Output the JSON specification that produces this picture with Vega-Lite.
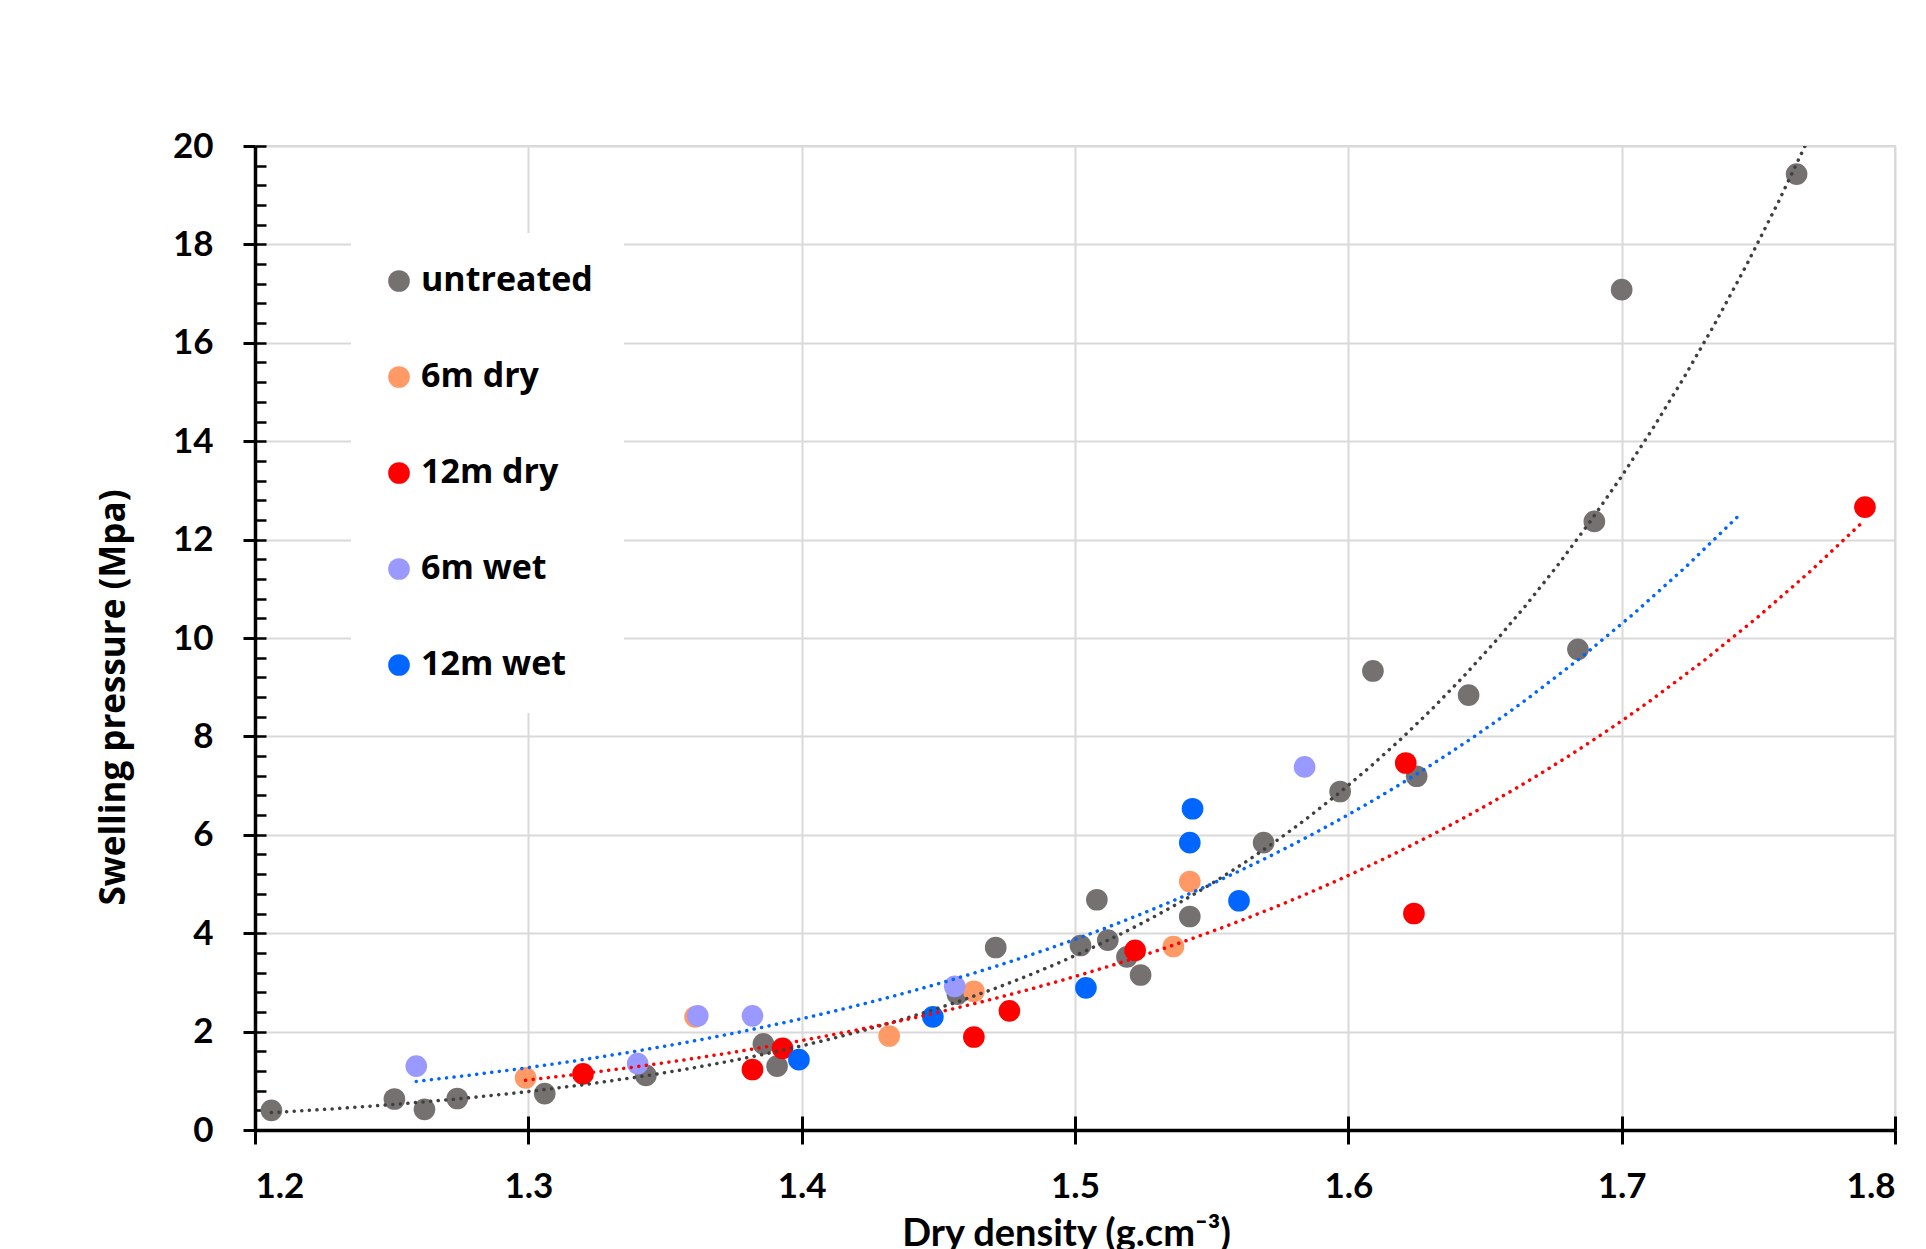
{
  "$schema": "https://vega.github.io/schema/vega-lite/v6.json",
  "width": 1640,
  "height": 984,
  "autosize": {"type": "none"},
  "padding": {"left": 255, "top": 146, "right": 31, "bottom": 119},
  "background": "white",
  "config": {"view": {"stroke": "#d9d9d9", "strokeWidth": 2}},
  "data": {
    "values": [
      {"series": "untreated", "density": 1.206, "pressure": 0.40},
      {"series": "untreated", "density": 1.251, "pressure": 0.63},
      {"series": "untreated", "density": 1.262, "pressure": 0.42},
      {"series": "untreated", "density": 1.274, "pressure": 0.64},
      {"series": "untreated", "density": 1.306, "pressure": 0.74},
      {"series": "untreated", "density": 1.343, "pressure": 1.11},
      {"series": "untreated", "density": 1.386, "pressure": 1.75},
      {"series": "untreated", "density": 1.391, "pressure": 1.30},
      {"series": "untreated", "density": 1.457, "pressure": 2.76},
      {"series": "untreated", "density": 1.471, "pressure": 3.71},
      {"series": "untreated", "density": 1.502, "pressure": 3.75},
      {"series": "untreated", "density": 1.508, "pressure": 4.68},
      {"series": "untreated", "density": 1.512, "pressure": 3.86},
      {"series": "untreated", "density": 1.519, "pressure": 3.52},
      {"series": "untreated", "density": 1.524, "pressure": 3.15},
      {"series": "untreated", "density": 1.542, "pressure": 4.34},
      {"series": "untreated", "density": 1.569, "pressure": 5.84},
      {"series": "untreated", "density": 1.597, "pressure": 6.88},
      {"series": "untreated", "density": 1.609, "pressure": 9.33},
      {"series": "untreated", "density": 1.625, "pressure": 7.19},
      {"series": "untreated", "density": 1.644, "pressure": 8.84},
      {"series": "untreated", "density": 1.684, "pressure": 9.77},
      {"series": "untreated", "density": 1.690, "pressure": 12.37},
      {"series": "untreated", "density": 1.700, "pressure": 17.08},
      {"series": "untreated", "density": 1.764, "pressure": 19.43},
      {"series": "6m dry", "density": 1.299, "pressure": 1.06},
      {"series": "6m dry", "density": 1.361, "pressure": 2.30},
      {"series": "6m dry", "density": 1.432, "pressure": 1.91},
      {"series": "6m dry", "density": 1.463, "pressure": 2.82},
      {"series": "6m dry", "density": 1.536, "pressure": 3.73},
      {"series": "6m dry", "density": 1.542, "pressure": 5.05},
      {"series": "12m dry", "density": 1.320, "pressure": 1.14},
      {"series": "12m dry", "density": 1.382, "pressure": 1.23},
      {"series": "12m dry", "density": 1.393, "pressure": 1.66},
      {"series": "12m dry", "density": 1.463, "pressure": 1.89},
      {"series": "12m dry", "density": 1.476, "pressure": 2.42},
      {"series": "12m dry", "density": 1.522, "pressure": 3.65},
      {"series": "12m dry", "density": 1.621, "pressure": 7.46},
      {"series": "12m dry", "density": 1.624, "pressure": 4.40},
      {"series": "12m dry", "density": 1.789, "pressure": 12.66},
      {"series": "6m wet", "density": 1.259, "pressure": 1.30},
      {"series": "6m wet", "density": 1.340, "pressure": 1.35},
      {"series": "6m wet", "density": 1.362, "pressure": 2.32},
      {"series": "6m wet", "density": 1.382, "pressure": 2.32},
      {"series": "6m wet", "density": 1.456, "pressure": 2.92},
      {"series": "6m wet", "density": 1.584, "pressure": 7.38},
      {"series": "12m wet", "density": 1.399, "pressure": 1.43},
      {"series": "12m wet", "density": 1.448, "pressure": 2.30},
      {"series": "12m wet", "density": 1.504, "pressure": 2.89},
      {"series": "12m wet", "density": 1.542, "pressure": 5.84},
      {"series": "12m wet", "density": 1.543, "pressure": 6.53},
      {"series": "12m wet", "density": 1.560, "pressure": 4.66}
    ]
  },
  "layer": [
    {
      "mark": {"type": "circle", "size": 470, "opacity": 1},
      "encoding": {
        "x": {
          "field": "density", "type": "quantitative",
          "scale": {"domain": [1.2, 1.8], "nice": false, "zero": false},
          "axis": {
            "orient": "bottom",
            "values": [1.2, 1.3, 1.4, 1.5, 1.6, 1.7, 1.8],
            "format": ".1f",
            "grid": true, "gridColor": "#d9d9d9", "gridWidth": 2,
            "domain": true, "domainColor": "black", "domainWidth": 3.5,
            "ticks": true, "tickSize": 14, "tickWidth": 3, "tickColor": "black",
            "labelFont": "Lato", "labelFontSize": 35, "labelFontWeight": "bold", "labelColor": "black",
            "labelPadding": 25,
            "title": "Dry density (g.cm⁻³)",
            "titleFont": "Lato", "titleFontSize": 38, "titleFontWeight": "bold", "titleColor": "black",
            "titleBaseline": "alphabetic", "titleAlign": "center", "titleX": 811, "titleY": 115
          }
        },
        "y": {
          "field": "pressure", "type": "quantitative",
          "scale": {"domain": [0, 20], "nice": false},
          "axis": {
            "orient": "left",
            "values": [0, 2, 4, 6, 8, 10, 12, 14, 16, 18, 20],
            "grid": true, "gridColor": "#d9d9d9", "gridWidth": 2,
            "domain": true, "domainColor": "black", "domainWidth": 3.5,
            "ticks": true, "tickSize": 12, "tickWidth": 3, "tickColor": "black",
            "labelFont": "Lato", "labelFontSize": 35, "labelFontWeight": "bold", "labelColor": "black",
            "labelPadding": 30,
            "title": "Swelling pressure (Mpa)",
            "titleFont": "Open Sans", "titleFontSize": 35, "titleFontWeight": "bold", "titleColor": "black",
            "titleAngle": -90, "titleAlign": "center", "titleBaseline": "alphabetic",
            "titleX": -131, "titleY": 551
          }
        },
        "color": {
          "field": "series", "type": "nominal",
          "scale": {
            "domain": ["untreated", "6m dry", "12m dry", "6m wet", "12m wet"],
            "range": ["#767171", "#FF9966", "#FF0000", "#9999FF", "#0066FF"]
          },
          "legend": {
            "title": null,
            "orient": "none",
            "legendX": 96,
            "legendY": 87,
            "fillColor": "white",
            "padding": 31,
            "symbolType": "circle",
            "symbolSize": 470,
            "symbolStrokeWidth": 0,
            "symbolOpacity": 1,
            "labelFont": "Open Sans",
            "labelFontSize": 34,
            "labelFontWeight": "bold",
            "labelColor": "black",
            "labelOffset": 5,
            "labelLimit": 400,
            "rowPadding": 62
          }
        }
      }
    },
    {
      "transform": [
        {"filter": {"field": "series", "equal": "untreated"}},
        {"regression": "pressure", "on": "density", "method": "pow", "extent": [1.206, 1.78]}
      ],
      "mark": {"type": "line", "clip": true, "color": "#404040", "strokeWidth": 3.5, "strokeDash": [0.1, 7.5], "strokeCap": "round"},
      "encoding": {
        "x": {
          "field": "density", "type": "quantitative",
          "axis": {
            "orient": "bottom", "values": [1.2, 1.3, 1.4, 1.5, 1.6, 1.7, 1.8],
            "domain": false, "labels": false, "grid": false, "title": null,
            "ticks": true, "tickSize": -14, "tickWidth": 3, "tickColor": "black"
          }
        },
        "y": {
          "field": "pressure", "type": "quantitative",
          "axis": {
            "orient": "left",
            "values": [0,0.4,0.8,1.2,1.6,2,2.4,2.8,3.2,3.6,4,4.4,4.8,5.2,5.6,6,6.4,6.8,7.2,7.6,8,8.4,8.8,9.2,9.6,10,10.4,10.8,11.2,11.6,12,12.4,12.8,13.2,13.6,14,14.4,14.8,15.2,15.6,16,16.4,16.8,17.2,17.6,18,18.4,18.8,19.2,19.6,20],
            "domain": false, "labels": false, "grid": false, "title": null,
            "ticks": true, "tickSize": -11, "tickWidth": 2.5, "tickColor": "black"
          }
        }
      }
    },
    {
      "transform": [
        {"filter": {"field": "series", "oneOf": ["6m dry", "12m dry"]}},
        {"regression": "pressure", "on": "density", "method": "pow", "extent": [1.299, 1.789]}
      ],
      "mark": {"type": "line", "clip": true, "color": "#FF0000", "strokeWidth": 3.5, "strokeDash": [0.1, 7.5], "strokeCap": "round"},
      "encoding": {
        "x": {"field": "density", "type": "quantitative", "axis": null},
        "y": {"field": "pressure", "type": "quantitative", "axis": null}
      }
    },
    {
      "transform": [
        {"filter": {"field": "series", "oneOf": ["6m wet", "12m wet"]}},
        {"regression": "pressure", "on": "density", "method": "pow", "extent": [1.259, 1.743]}
      ],
      "mark": {"type": "line", "clip": true, "color": "#0066FF", "strokeWidth": 3.5, "strokeDash": [0.1, 7.5], "strokeCap": "round"},
      "encoding": {
        "x": {"field": "density", "type": "quantitative", "axis": null},
        "y": {"field": "pressure", "type": "quantitative", "axis": null}
      }
    }
  ],
  "resolve": {"axis": {"x": "independent", "y": "independent"}}
}
